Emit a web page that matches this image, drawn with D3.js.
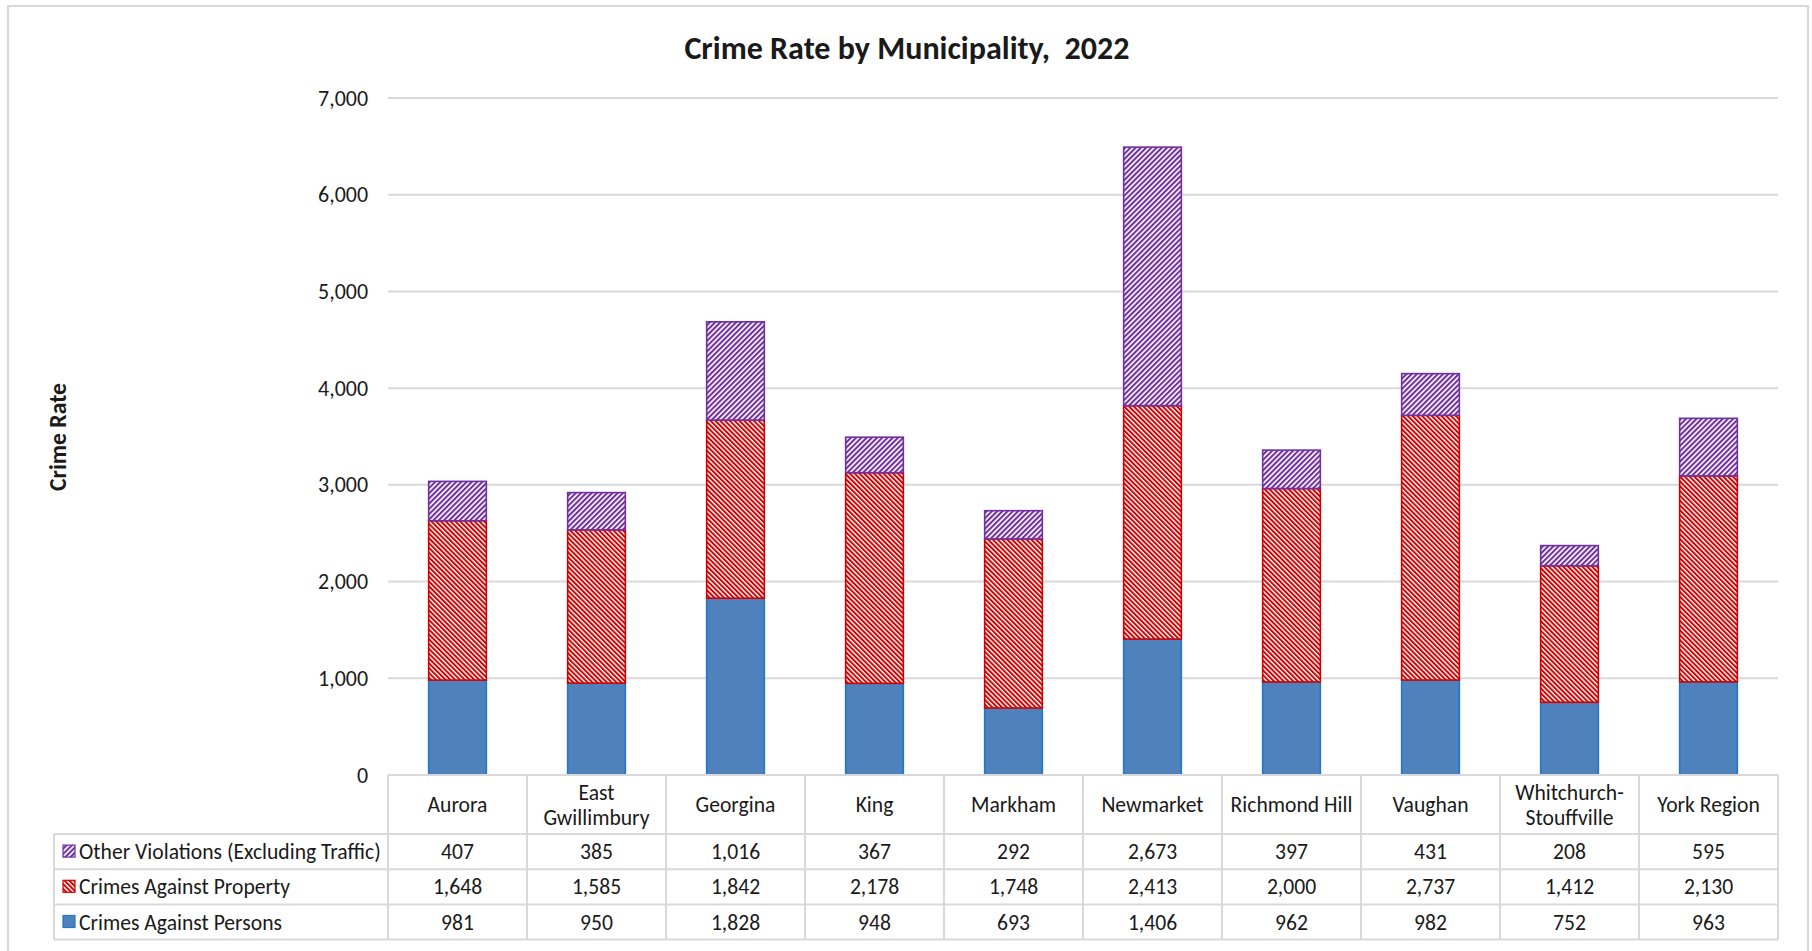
<!DOCTYPE html>
<html>
<head>
<meta charset="utf-8">
<script src="https://cdn.jsdelivr.net/npm/d3@7"></script>
<style>
  html, body { margin: 0; padding: 0; background: #fff; }
  svg { display: block; }
  text { font-family: Carlito, Lato, "Open Sans", sans-serif; fill: #1a1a1a; }
</style>
</head>
<body>
<svg id="chart" width="1812" height="951"></svg>
<script>
// ---------------- DATA ----------------
const categories = ["Aurora", "East Gwillimbury", "Georgina", "King", "Markham", "Newmarket", "Richmond Hill", "Vaughan", "Whitchurch-Stouffville", "York Region"];
const categoryLines = [["Aurora"], ["East", "Gwillimbury"], ["Georgina"], ["King"], ["Markham"], ["Newmarket"], ["Richmond Hill"], ["Vaughan"], ["Whitchurch-", "Stouffville"], ["York Region"]];
const seriesNames = ["Other Violations (Excluding Traffic)", "Crimes Against Property", "Crimes Against Persons"];
const otherViolations = [407, 385, 1016, 367, 292, 2673, 397, 431, 208, 595];
const crimesProperty = [1648, 1585, 1842, 2178, 1748, 2413, 2000, 2737, 1412, 2130];
const crimesPersons = [981, 950, 1828, 948, 693, 1406, 962, 982, 752, 963];
const yTicks = [0, 1000, 2000, 3000, 4000, 5000, 6000, 7000];
const titleText = "Crime Rate by Municipality,  2022";
const yLabelText = "Crime Rate";

// ---------------- LAYOUT ----------------
const svg = d3.select("#chart");
const plot = { left: 388, right: 1778, top: 98, bottom: 775 };
const tableLeft = 54;
const headerBottom = 834;
const rowH = 35.2;
const gridColor = "#d9d9d9";

function fitSize(txt, target, weight) {
  const t = svg.append("text").attr("font-size", 100).attr("font-weight", weight || "normal").text(txt);
  const w = t.node().getComputedTextLength();
  t.remove();
  return 100 * target / w;
}
const titleSize = fitSize(titleText, 438, "bold");
const tickSize = fitSize("7,000", 50);
const tableSize = fitSize(seriesNames[0], 302);
const yLabelSize = fitSize(yLabelText, 108, "bold");

// ---------------- PATTERNS ----------------
const defs = svg.append("defs");
function stripePattern(id, color, angle, size, frac) {
  const p = defs.append("pattern").attr("id", id)
    .attr("patternUnits", "userSpaceOnUse")
    .attr("width", size).attr("height", size)
    .attr("patternTransform", `rotate(${angle})`);
  p.append("rect").attr("width", size).attr("height", size).attr("fill", "#fff");
  p.append("rect").attr("width", size * frac).attr("height", size).attr("fill", color);
  return `url(#${id})`;
}
const colors = {
  other: { stroke: "#7030a0", fill: stripePattern("pOther", "#7030a0", 45, 3.7, 0.56) },
  property: { stroke: "#d00000", fill: stripePattern("pProp", "#d00000", -45, 3.4, 0.58) },
  persons: { stroke: "#1f78c8", fill: "#4f81bd" }
};
const seriesStyles = [colors.other, colors.property, colors.persons];

// ---------------- OUTER BORDER ----------------
svg.append("rect").attr("x", 8).attr("y", 6).attr("width", 1800).attr("height", 980)
  .attr("fill", "#fff").attr("stroke", gridColor).attr("stroke-width", 2);

// ---------------- SCALES ----------------
const x = d3.scaleBand().domain(categories).range([plot.left, plot.right]).paddingInner(0).paddingOuter(0);
const y = d3.scaleLinear().domain([0, 7000]).range([plot.bottom, plot.top]);
const barW = x.bandwidth() * 0.415;

svg.append("g").selectAll("line").data(yTicks).join("line")
  .attr("x1", plot.left).attr("x2", plot.right)
  .attr("y1", d => y(d)).attr("y2", d => y(d))
  .attr("stroke", gridColor).attr("stroke-width", 2);

const yAxis = d3.axisLeft(y).tickValues(yTicks).tickSize(0).tickPadding(0).tickFormat(d3.format(","));
const ya = svg.append("g").attr("transform", `translate(368,0)`).call(yAxis);
ya.select(".domain").remove();
ya.selectAll("text").attr("font-size", tickSize).attr("font-family", null).attr("fill", "#1a1a1a");

// ---------------- STACKED BARS ----------------
const rows = categories.map((c, i) => ({ cat: c, persons: crimesPersons[i], property: crimesProperty[i], other: otherViolations[i] }));
const stack = d3.stack().keys(["persons", "property", "other"])(rows);
const styleByKey = { persons: colors.persons, property: colors.property, other: colors.other };
const barsG = svg.append("g");
stack.forEach(layer => {
  const st = styleByKey[layer.key];
  barsG.append("g").selectAll("rect").data(layer).join("rect")
    .attr("x", d => x(d.data.cat) + (x.bandwidth() - barW) / 2)
    .attr("width", barW)
    .attr("y", d => y(d[1]))
    .attr("height", d => y(d[0]) - y(d[1]))
    .attr("fill", st.fill)
    .attr("stroke", st.stroke)
    .attr("stroke-width", 1.6);
});

// ---------------- DATA TABLE ----------------
const tbl = svg.append("g");
const tableRight = plot.right;
const hLines = [
  { y: plot.bottom, x1: plot.left },
  { y: headerBottom, x1: tableLeft },
  { y: headerBottom + rowH, x1: tableLeft },
  { y: headerBottom + 2 * rowH, x1: tableLeft },
  { y: headerBottom + 3 * rowH, x1: tableLeft }
];
tbl.selectAll("line.h").data(hLines).join("line").attr("class", "h")
  .attr("x1", d => d.x1).attr("x2", tableRight)
  .attr("y1", d => d.y).attr("y2", d => d.y)
  .attr("stroke", gridColor).attr("stroke-width", 2);
const colEdges = categories.map(c => x(c)).concat([plot.right]);
tbl.selectAll("line.v").data(colEdges).join("line").attr("class", "v")
  .attr("x1", d => d).attr("x2", d => d)
  .attr("y1", plot.bottom).attr("y2", headerBottom + 3 * rowH)
  .attr("stroke", gridColor).attr("stroke-width", 2);
tbl.append("line").attr("x1", tableLeft).attr("x2", tableLeft)
  .attr("y1", headerBottom).attr("y2", headerBottom + 3 * rowH)
  .attr("stroke", gridColor).attr("stroke-width", 2);

const headerMid = (plot.bottom + headerBottom) / 2;
categoryLines.forEach((lines, i) => {
  const cx = x(categories[i]) + x.bandwidth() / 2;
  const lh = 25;
  lines.forEach((ln, j) => {
    tbl.append("text")
      .attr("x", cx)
      .attr("y", headerMid + (j - (lines.length - 1) / 2) * lh)
      .attr("text-anchor", "middle").attr("dominant-baseline", "central")
      .attr("font-size", tableSize).text(ln);
  });
});

const seriesValues = [otherViolations, crimesProperty, crimesPersons];
const fmt = d3.format(",");
seriesNames.forEach((name, r) => {
  const cy = headerBottom + rowH * (r + 0.5);
  const st = seriesStyles[r];
  tbl.append("rect").attr("x", 63).attr("y", cy - 6.5).attr("width", 12).attr("height", 12)
    .attr("fill", st.fill).attr("stroke", st.stroke).attr("stroke-width", 1.2);
  tbl.append("text").attr("x", 79).attr("y", cy)
    .attr("dominant-baseline", "central").attr("font-size", tableSize).text(name);
  seriesValues[r].forEach((v, i) => {
    tbl.append("text")
      .attr("x", x(categories[i]) + x.bandwidth() / 2).attr("y", cy)
      .attr("text-anchor", "middle").attr("dominant-baseline", "central")
      .attr("font-size", tableSize).text(fmt(v));
  });
});

// ---------------- TITLES ----------------
svg.append("text").attr("x", 907).attr("y", 48)
  .attr("text-anchor", "middle").attr("dominant-baseline", "central")
  .attr("font-weight", "bold").attr("font-size", titleSize).attr("fill", "#000")
  .style("white-space", "pre").attr("xml:space", "preserve")
  .text(titleText);

svg.append("text")
  .attr("transform", "translate(57,437) rotate(-90)")
  .attr("text-anchor", "middle").attr("dominant-baseline", "central")
  .attr("font-weight", "bold").attr("font-size", yLabelSize).attr("fill", "#000")
  .text(yLabelText);
</script>
</body>
</html>
